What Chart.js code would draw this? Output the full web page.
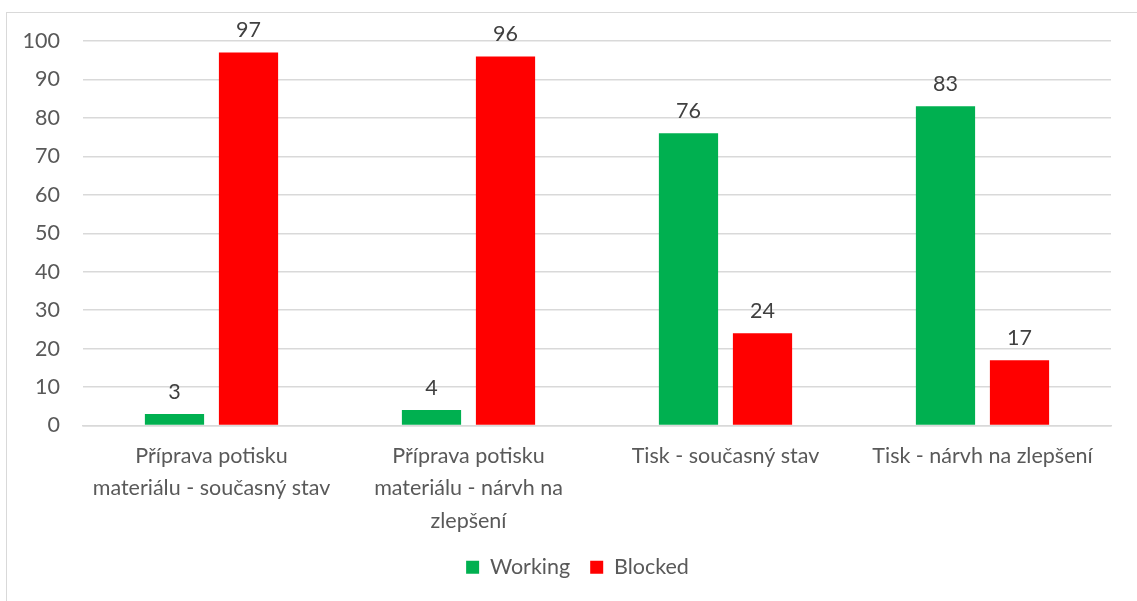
<!DOCTYPE html>
<html>
<head>
<meta charset="utf-8">
<script src="https://cdn.jsdelivr.net/npm/chart.js@4"></script>
<style>
  html, body { margin: 0; padding: 0; background: #fff; }
  #wrap { position: relative; width: 1137px; height: 601px; overflow: hidden; }
  #frame {
    position: absolute; left: 6px; top: 12px; width: 1200px; height: 700px;
    border: 1.5px solid #d9d9d9; box-sizing: border-box;
  }
  canvas { position: absolute; left: 0; top: 0; }
</style>
</head>
<body>
<div id="wrap">
  <div id="frame"></div>
  <canvas id="chart" width="1137" height="601"></canvas>
</div>
<script>
// ── Data ─────────────────────────────────────────────────────────
const categories = [
  ['Příprava potisku', 'materiálu - současný stav'],
  ['Příprava potisku', 'materiálu - nárvh na', 'zlepšení'],
  'Tisk - současný stav',
  'Tisk - nárvh na zlepšení',
];
const working = [3, 4, 76, 83];
const blocked = [97, 96, 24, 17];
const yTicks = [0, 10, 20, 30, 40, 50, 60, 70, 80, 90, 100];

const FONT = "Lato, 'Open Sans', sans-serif";
const FONT_SIZE = 21.5;
const COLORS = {
  working: '#00b050',
  blocked: '#ff0000',
  grid: '#d9d9d9',
  tick: '#595959',
  value: '#404040',
};

// Value labels above each bar
const valueLabels = {
  id: 'valueLabels',
  afterDatasetsDraw(chart) {
    const ctx = chart.ctx;
    ctx.save();
    ctx.font = `${FONT_SIZE}px ${FONT}`;
    ctx.fillStyle = COLORS.value;
    ctx.textAlign = 'center';
    ctx.textBaseline = 'middle';
    chart.data.datasets.forEach((ds, i) => {
      chart.getDatasetMeta(i).data.forEach((bar, j) => {
        ctx.fillText(ds.data[j], bar.x, bar.y - 22);
      });
    });
    ctx.restore();
  }
};

// Nudge the legend a little to the right of the canvas centre
const legendShift = {
  id: 'legendShift',
  afterLayout(chart) {
    if (!chart.legend) return;
    chart.legend.left += 22;
    chart.legend.right += 22;
  }
};

new Chart(document.getElementById('chart'), {
  type: 'bar',
  data: {
    labels: categories,
    datasets: [
      { label: 'Working', data: working, backgroundColor: COLORS.working },
      { label: 'Blocked', data: blocked, backgroundColor: COLORS.blocked },
    ]
  },
  options: {
    responsive: false,
    animation: false,
    categoryPercentage: 0.576,
    barPercentage: 0.8,
    layout: { padding: { top: 41, right: 26, bottom: 13, left: 0 } },
    plugins: {
      legend: {
        position: 'bottom',
        labels: {
          boxWidth: 13,
          boxHeight: 13,
          padding: 20,
          color: COLORS.tick,
          font: { family: FONT, size: FONT_SIZE },
        }
      },
      tooltip: { enabled: false },
    },
    scales: {
      x: {
        grid: { display: false },
        border: { color: COLORS.grid, width: 1.5 },
        ticks: {
          color: COLORS.tick,
          font: { family: FONT, size: FONT_SIZE, lineHeight: 1.52 },
          padding: 6,
          maxRotation: 0,
          autoSkip: false,
        },
        afterFit: (scale) => { scale.height = 111; },
      },
      y: {
        min: 0,
        max: 100,
        afterBuildTicks: (scale) => { scale.ticks = yTicks.map(v => ({ value: v })); },
        grid: { color: COLORS.grid, lineWidth: 1.5, drawTicks: false },
        border: { display: false },
        ticks: {
          color: COLORS.tick,
          font: { family: FONT, size: FONT_SIZE },
          padding: 23,
        },
        afterFit: (scale) => { scale.width = 83; },
      },
    },
  },
  plugins: [valueLabels, legendShift],
});
</script>
</body>
</html>
